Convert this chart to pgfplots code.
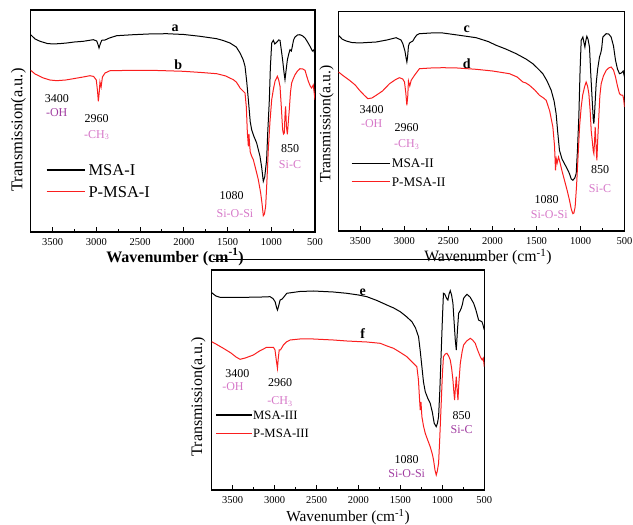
\documentclass[border=0pt]{standalone}
\usepackage{fontspec}
\setmainfont{Liberation Serif}
\usepackage{xcolor}
\usepackage{pgfplots}
\pgfplotsset{compat=1.18}

\definecolor{specred}{RGB}{250,30,30}
\definecolor{annpurple}{RGB}{160,60,160}
\definecolor{annpink}{RGB}{214,120,200}

\pgfplotsset{
  ftir/.style={
    scale only axis, anchor=south west,
    x dir=reverse, xmin=500, xmax=3750, ymin=0,
    xtick={500,1000,...,3500}, minor x tick num=1,
    ytick=\empty, xtick pos=bottom, tick align=inside,
    major tick length=5pt, minor tick length=3pt,
    every tick/.style={black,line width=1pt},
    axis line style={line width=1.2pt},
    /pgf/number format/assume math mode=true,
    /pgf/number format/set thousands separator={},
    tick label style={font=\fontsize{10.5}{12}\selectfont},
    x tick label style={yshift=-3pt},
    every axis plot/.append style={line width=1pt},
    clip=true,
  }
}

\begin{document}
\begin{tikzpicture}[x=1pt,y=1pt]
\useasboundingbox (0,0) rectangle (633,525);

% ---------- panel 1 ----------
\begin{axis}[ftir,at={(30.7pt,293pt)},width=284.3pt,height=222pt,ymax=222]
\addplot[black] coordinates {(3750,197.3) (3700,193) (3643,190.7) (3560,188.5) (3491,188) (3400,188.5) (3339,189) (3250,190) (3148,190.7) (3034,192.3) (2995,191) (2975,186) (2969,184) (2955,188) (2938,191.7) (2900,192) (2850,194) (2767,196.3) (2577,197.3) (2400,198) (2195,198.3) (2000,197.5) (1815,195.7) (1624,193.3) (1550,191.5) (1472,189) (1400,185) (1357,179) (1320,172) (1300,165.7) (1280,150) (1262,132.3) (1240,110) (1224,102.3) (1200,96) (1167,89) (1129,75.7) (1110,65) (1091,50.7) (1075,55) (1053,72.3) (1040,100) (1022,132) (1010,165) (995,189) (976,191.7) (960,188) (938,189.7) (915,192) (900,191.7) (885,182) (870,172) (855,160) (843,152.3) (830,162) (816,172) (800,178) (786,182.3) (770,181) (759,185.7) (745,192) (728,195) (700,197) (672,197.3) (640,196) (614,194) (585,190) (557,185.7) (530,181) (515,182) (500,177.3)};
\addplot[specred] coordinates {(3750,161.7) (3700,158) (3605,154) (3530,152) (3453,151.3) (3350,152) (3262,153.3) (3150,155) (3072,156.3) (3030,155.5) (3000,152) (2985,140) (2977,130.7) (2968,138) (2958,150) (2945,145) (2930,155) (2900,159) (2843,161.3) (2700,161.5) (2577,161.7) (2300,161.5) (2005,160.7) (1800,159.5) (1624,158.3) (1520,156) (1434,152.3) (1400,150) (1370,146) (1357,144) (1300,139) (1285,125) (1273,99) (1265,90) (1262,85.7) (1255,98) (1248,88) (1240,80) (1225,76) (1205,72.3) (1175,62) (1148,52.3) (1121,39) (1105,28) (1091,16.3) (1078,18) (1064,25.7) (1050,50) (1034,82.3) (1015,110) (995,132.3) (975,143) (957,150.7) (930,155.7) (915,152) (900,145.7) (885,125) (870,102.3) (860,98) (851,99) (844,115) (836,125.7) (826,105) (816,97.7) (805,110) (794,122.3) (780,140) (767,149) (750,153) (728,157.3) (700,161) (672,163.3) (640,163) (614,161.7) (595,156) (576,150.7) (555,146) (538,144) (520,147) (510,140) (500,132.3)};
\end{axis}

% ---------- panel 2 ----------
\begin{axis}[ftir,at={(338.5pt,294pt)},width=286pt,height=219.3pt,ymax=219.3]
\addplot[black] coordinates {(3750,195.7) (3710,192) (3663,190) (3600,188.5) (3511,188) (3420,188.5) (3322,189) (3200,191) (3095,193.3) (3040,191) (3019,187.3) (2995,180) (2980,172) (2973,169) (2965,174) (2955,185) (2943,188) (2925,189) (2905,190) (2886,193) (2860,196) (2830,197.3) (2700,198) (2564,198) (2400,196) (2186,193.3) (2050,189.5) (1958,185.7) (1850,182) (1731,177.3) (1620,172) (1542,167.3) (1480,162) (1428,157.3) (1380,150) (1333,140.7) (1300,130) (1277,117.3) (1260,100) (1239,80.7) (1210,72) (1182,67.3) (1150,62) (1125,57.3) (1105,52) (1087,50.7) (1065,53) (1049,57.3) (1035,80) (1019,114) (1005,160) (992,190.7) (973,194) (960,188) (950,184) (940,190) (928,194.7) (915,192) (898,184) (885,160) (867,130.7) (855,112) (848,107.3) (840,118) (822,147.3) (805,162) (784,174) (770,178) (760,182) (746,194) (708,197.3) (680,197) (652,194) (625,185) (602,170.7) (580,162) (557,157.3) (535,158) (515,160) (500,154)};
\addplot[specred] coordinates {(3750,159) (3700,155.5) (3625,150.7) (3560,146) (3511,140.7) (3460,136) (3417,132.3) (3370,133) (3322,135.7) (3250,140) (3170,147.3) (3100,151.5) (3057,153.3) (3020,152) (3000,149) (2985,138) (2973,125.7) (2963,135) (2955,150) (2940,145) (2924,150.7) (2886,155.7) (2850,160) (2830,162.3) (2700,163) (2564,163.3) (2400,163) (2186,161.7) (2000,160) (1807,157.3) (1720,154) (1655,149) (1620,148) (1580,145.7) (1520,141) (1466,135.7) (1420,133) (1390,130.7) (1350,120) (1314,104) (1295,85) (1284,60.7) (1275,72) (1265,68) (1250,74) (1239,70.7) (1210,60) (1182,50.7) (1150,40) (1125,30.7) (1105,22) (1087,17.3) (1075,18) (1061,24) (1045,45) (1030,70.7) (1010,105) (992,124) (975,136) (954,144) (936,149) (920,145) (905,137.3) (890,120) (878,100) (867,90.7) (855,80) (848,77.3) (840,90) (833,104) (823,85) (814,70.7) (805,90) (792,114) (780,135) (765,147.3) (740,155) (708,160.7) (680,163) (652,164) (625,161) (602,154) (580,145) (557,137.3) (540,136) (519,135.7) (510,132) (500,124)};
\end{axis}

% ---------- panel 3 ----------
\begin{axis}[ftir,at={(211.7pt,35pt)},width=272.6pt,height=220pt,ymax=220]
\addplot[black] coordinates {(3750,197.3) (3700,194) (3651,192.7) (3500,192.5) (3332,192.7) (3150,193) (3054,193.3) (3020,191.5) (2994,188.3) (2975,182) (2966,180) (2955,183) (2934,190) (2910,191) (2880,194) (2855,196.7) (2700,198.5) (2537,199) (2300,198) (2139,196.7) (2000,195) (1900,193.3) (1780,189.5) (1662,185) (1580,182) (1502,178.3) (1430,173.5) (1363,168.3) (1320,162) (1284,153.3) (1265,140) (1244,123.3) (1225,108) (1204,98.3) (1175,92) (1145,86.7) (1120,78) (1097,66.7) (1073,63.3) (1058,67) (1045,73.3) (1030,100) (1017,130) (1000,170) (987,196.7) (972,196) (958,193.3) (945,191) (934,190) (920,196) (906,199.3) (890,195) (874,186.7) (860,168) (846,150) (834,140) (820,160) (806,176.7) (790,179) (775,181.7) (760,186) (747,191.7) (725,194) (707,195.7) (670,193) (627,186.7) (600,180) (568,170) (545,169) (528,168.3) (515,165) (500,160)};
\addplot[specred] coordinates {(3750,148.3) (3700,146) (3611,141.7) (3520,137) (3460,133) (3412,130.7) (3350,132) (3253,135) (3180,139) (3094,142.7) (3014,142.7) (2995,140) (2980,130) (2966,121.7) (2956,132) (2945,140) (2930,140) (2895,145) (2860,148) (2815,150) (2700,151) (2537,151) (2300,150) (2139,149) (1900,148) (1741,146.7) (1660,144) (1582,141.7) (1500,137.5) (1423,133.3) (1360,128) (1304,123.3) (1285,110) (1275,95) (1264,80) (1255,88) (1244,73.3) (1225,64) (1204,56.7) (1175,50) (1145,43.3) (1120,36) (1105,30) (1088,20) (1073,15) (1060,19) (1045,26.7) (1032,50) (1017,80) (1000,115) (987,133.3) (965,136) (946,136.7) (925,134) (906,130) (890,122) (874,110) (862,97) (854,90) (846,100) (834,113.3) (824,100) (814,90) (805,105) (786,126.7) (765,138) (747,145) (710,149) (667,151.7) (640,150) (608,146.7) (580,140) (548,133.3) (525,130) (512,132) (500,123.3)};
\end{axis}

% axis titles
\node[font=\fontsize{16}{18}\selectfont\bfseries] at (175,268) {Wavenumber (cm\textsuperscript{-1})};
\node[font=\fontsize{15.8}{18}\selectfont] at (488,268) {Wavenumber (cm\textsuperscript{-1})};
\node[font=\fontsize{15.3}{18}\selectfont] at (348,8) {Wavenumber (cm\textsuperscript{-1})};
\node[font=\fontsize{16.5}{18}\selectfont,rotate=90] at (18.3,395) {Transmission(a.u.)};
\node[font=\fontsize{15.7}{18}\selectfont,rotate=90] at (326.7,401) {Transmission(a.u.)};
\node[font=\fontsize{16}{18}\selectfont,rotate=90] at (198.3,128.3) {Transmission(a.u.)};

% strip line above panel 3
\draw[line width=0.8pt] (213,266) -- (485,266);

% legends
\draw[black,line width=1.2pt] (46.7,355) -- (85,355);
\draw[specred,line width=1.2pt] (46.7,333.3) -- (85,333.3);
\node[anchor=west,inner sep=0,font=\fontsize{16.5}{18}\selectfont] at (88.3,355) {MSA-I};
\node[anchor=west,inner sep=0,font=\fontsize{16.5}{18}\selectfont] at (88.3,333.3) {P-MSA-I};

\draw[black,line width=1.2pt] (351.7,361.7) -- (390,361.7);
\draw[specred,line width=1.2pt] (351.7,343.3) -- (390,343.3);
\node[anchor=west,inner sep=0,font=\fontsize{13.2}{15}\selectfont] at (391.7,361.7) {MSA-II};
\node[anchor=west,inner sep=0,font=\fontsize{13.2}{15}\selectfont] at (391.7,343.3) {P-MSA-II};

\draw[black,line width=1.2pt] (216,110) -- (251.7,110);
\draw[specred,line width=1.2pt] (216,91.7) -- (251.7,91.7);
\node[anchor=west,inner sep=0,font=\fontsize{12.7}{15}\selectfont] at (253,110) {MSA-III};
\node[anchor=west,inner sep=0,font=\fontsize{12.7}{15}\selectfont] at (253,91.7) {P-MSA-III};

% annotations panel 1
\begin{scope}[every node/.style={font=\fontsize{12}{14}\selectfont}]
\node[font=\fontsize{14}{16}\selectfont\bfseries] at (175,497) {a};
\node[font=\fontsize{14}{16}\selectfont\bfseries] at (178.3,460.7) {b};
\node at (57,426.7) {3400};
\node[text=annpurple] at (56.7,412.7) {-OH};
\node at (96.7,406.7) {2960};
\node[text=annpink] at (96.7,390) {-CH\textsubscript{3}};
\node at (290,376.7) {850};
\node[text=annpink] at (290,360) {Si-C};
\node at (231.7,329) {1080};
\node[text=annpink] at (235,311.7) {Si-O-Si};

% annotations panel 2
\node[font=\fontsize{14}{16}\selectfont\bfseries] at (466.7,495.7) {c};
\node[font=\fontsize{14}{16}\selectfont\bfseries] at (466.7,461.7) {d};
\node at (371.7,415) {3400};
\node[text=annpink] at (371.7,401.7) {-OH};
\node at (406.7,397.7) {2960};
\node[text=annpink] at (406.7,380.7) {-CH\textsubscript{3}};
\node at (600,355) {850};
\node[text=annpink] at (600,336.7) {Si-C};
\node at (546.7,325.7) {1080};
\node[text=annpink] at (549.3,310) {Si-O-Si};

% annotations panel 3
\node[font=\fontsize{14}{16}\selectfont\bfseries] at (362.7,232.3) {e};
\node[font=\fontsize{14}{16}\selectfont\bfseries] at (362.7,191.7) {f};
\node at (237.3,151) {3400};
\node[text=annpink] at (233,138.3) {-OH};
\node at (280,142.3) {2960};
\node[text=annpink] at (280,123.3) {-CH\textsubscript{3}};
\node at (461.7,109) {850};
\node[text=annpurple] at (461.7,95) {Si-C};
\node at (406.7,65) {1080};
\node[text=annpurple] at (406.7,51.7) {Si-O-Si};
\end{scope}
\end{tikzpicture}
\end{document}
